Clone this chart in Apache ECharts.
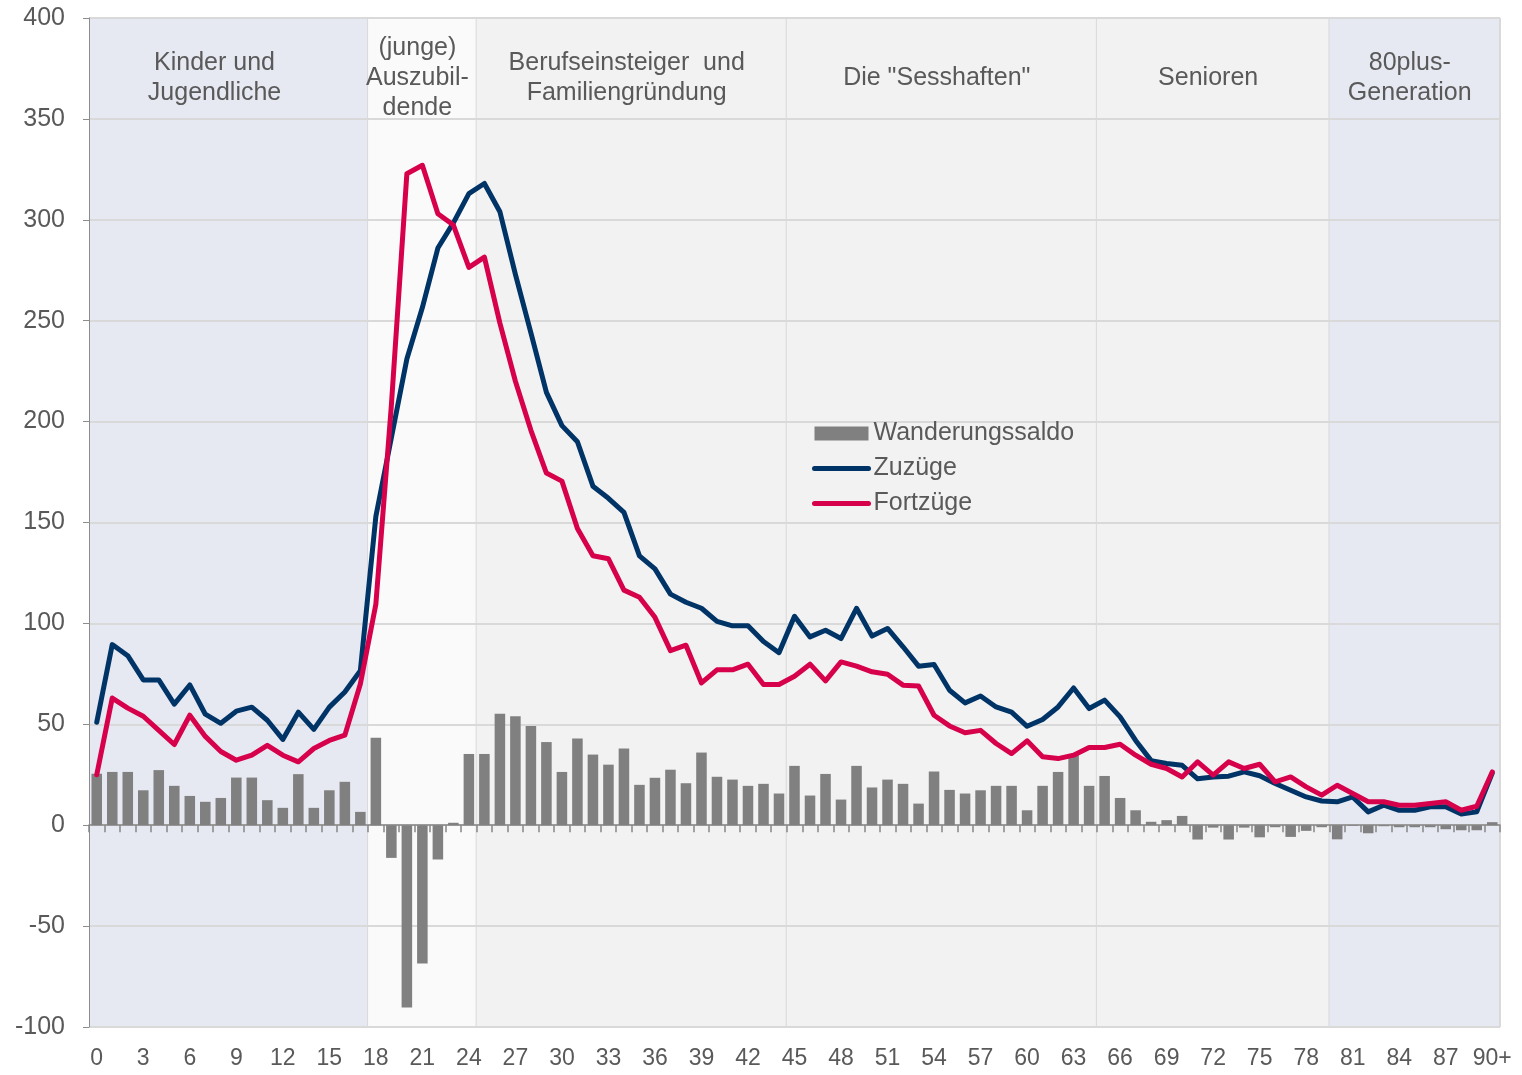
<!DOCTYPE html>
<html>
<head>
<meta charset="utf-8">
<script src="https://cdn.jsdelivr.net/npm/echarts@6/dist/echarts.min.js"></script>
<style>
html,body{margin:0;padding:0;background:#fff;}
#c{width:1522px;height:1075px;}
</style>
</head>
<body>
<div id="c"></div>
<script>
// ---- data ----
const ages = [];
for (let i = 0; i < 90; i++) ages.push(String(i));
ages.push('90+');

const zuzuege = [51,89.5,84,72,72,60,69.5,55,50.5,56.5,58.5,52,42.5,56,47.5,58.5,66,76.5,
  153,192,231,256.5,286,298.5,313,318,304,273,244,214.5,198,190,168,162,155,133.5,127,114.5,110.5,
  107.5,101,98.8,98.8,91,85.5,103.5,93.3,96.6,92.5,107.5,93.7,97.5,88.4,78.8,79.6,66.9,60.6,64,58.6,
  56,49,52.4,58.6,68,57.8,62,53.7,42,32,30.6,29.7,23,23.9,24.3,26.4,24.5,20.7,17.3,14,12,
  11.6,14,6.6,9.9,7.4,7.4,9.1,9.1,5.5,6.6,25.8];

const fortzuege = [25,63,58,54,47,40,54.5,44,36.5,32.2,34.7,39.6,34.7,31.4,38,42,44.6,70,
  109.5,208,322.8,327,303,297.4,276.4,281.5,248.8,220,195.7,174.5,170.5,147,133.5,132,116.5,113,103,86.5,89.2,
  70.5,77,77,79.8,69.7,69.7,73.8,79.8,71.5,80.9,78.8,76,74.8,69.4,69,54.5,49.2,45.8,47,40.5,
  35.5,41.8,33.9,33,34.7,38.5,38.5,40.1,34.7,30.2,28.1,23.9,31.4,24.8,31.4,28.1,30.2,21.5,23.9,19,14.9,
  19.8,15.7,11.6,11.6,9.9,9.9,10.7,11.6,7.4,9.4,26.4];

const saldo = [25.5,26.4,26.4,17.3,27.3,19.5,14.5,11.6,13.5,23.6,23.6,12.4,8.6,25.3,8.6,17.3,21.5,6.6,
  43.3,-16.2,-90.3,-68.5,-17,1.2,35.3,35.3,55.2,54,49.2,41.2,26.4,43,35,30,38,20,23.5,27.5,20.8,
  36,24,22.6,19.5,20.5,15.7,29.4,14.7,25.4,12.7,29.4,18.7,22.6,20.5,10.7,26.6,17.5,15.7,17.3,19.5,
  19.5,7.4,19.5,26.4,34.7,19.5,24.4,13.5,7.4,1.7,2.5,4.6,-7.1,-1.2,-7.1,-1.2,-6,-1,-5.8,-2.8,-1,
  -7,-0.3,-4,-0.5,-1,-1,-1,-2,-2.5,-2.5,1.5];

const bandNames = ['Kinder und\nJugendliche', '(junge)\nAuszubil-\ndende', 'Berufseinsteiger  und\nFamiliengründung',
  'Die "Sesshaften"', 'Senioren', '80plus-\nGeneration'];
const bandStart = ['0', '18', '25', '45', '65', '80'];
const bandEnd = ['17', '24', '44', '64', '79', '90+'];

const yTicks = { min: -100, max: 400, step: 50 };
const seriesNames = ['Wanderungssaldo', 'Zuzüge', 'Fortzüge'];

// ---- styles ----
const bandColors = ['#e6e8f2', '#fafafa', '#f2f2f2', '#f2f2f2', '#f2f2f2', '#e6e8f2'];
const FONT = "'Liberation Sans', Arial, sans-serif";
const TXT = '#595959';
const BLUE = '#003366';
const RED = '#d6004b';

const bandData = bandStart.map((s, i) => [ages.indexOf(s), ages.indexOf(bandEnd[i]), i]);

const chart = echarts.init(document.getElementById('c'), null, { renderer: 'canvas' });
chart.setOption({
  animation: false,
  backgroundColor: '#ffffff',
  textStyle: { fontFamily: FONT },
  grid: { left: 89, right: 22, top: 18, bottom: 48, containLabel: false },
  legend: {
    orient: 'vertical',
    left: 812, top: 419,
    padding: 0,
    itemWidth: 54, itemHeight: 14, itemGap: 6,
    textStyle: { fontSize: 25, color: TXT, fontFamily: FONT, lineHeight: 29, padding: [0, 0, 0, 0] },
    data: [
      { name: seriesNames[0], icon: 'rect' },
      { name: seriesNames[1], itemStyle: { opacity: 0 }, lineStyle: { width: 5, cap: 'round', color: BLUE } },
      { name: seriesNames[2], itemStyle: { opacity: 0 }, lineStyle: { width: 5, cap: 'round', color: RED } }
    ]
  },
  xAxis: [
    {
      type: 'category', data: ages, position: 'bottom',
      axisLine: { onZero: true, lineStyle: { color: '#868686', width: 1.5 } },
      axisTick: { show: true, interval: 0, length: 7, lineStyle: { color: '#868686', width: 1.5 } },
      axisLabel: { show: false },
      splitLine: { show: false }
    },
    {
      type: 'category', data: ages, position: 'bottom',
      axisLine: { show: false, onZero: false },
      axisTick: { show: false },
      axisLabel: { interval: 2, fontSize: 23, color: TXT, margin: 20, fontFamily: FONT },
      splitLine: { show: false }
    }
  ],
  yAxis: {
    type: 'value', min: yTicks.min, max: yTicks.max, interval: yTicks.step,
    axisLine: { show: true, onZero: false, lineStyle: { color: '#8c8c8c', width: 1 } },
    axisTick: { show: true, length: 6, lineStyle: { color: '#8c8c8c' } },
    axisLabel: { fontSize: 25, color: TXT, margin: 24, fontFamily: FONT },
    splitLine: { show: true, lineStyle: { color: '#d9d9d9', width: 2 } }
  },
  series: [
    {
      type: 'custom',
      name: 'bands',
      xAxisIndex: 0,
      z: -5,
      silent: true,
      encode: { x: [0, 1], y: 2 },
      data: bandData,
      renderItem: function (params, api) {
        const s = api.value(0), e = api.value(1), idx = api.value(2);
        const bw = api.size([1, 0])[0];
        const pTop = api.coord([s, yTicks.max]);
        const pBot = api.coord([s, yTicks.min]);
        const x0 = api.coord([s, 0])[0] - bw / 2;
        const x1 = api.coord([e, 0])[0] + bw / 2;
        const yMid = api.coord([s, 370])[1];
        return {
          type: 'group',
          children: [
            { type: 'rect', shape: { x: x0, y: pTop[1], width: x1 - x0, height: pBot[1] - pTop[1] },
              style: { fill: bandColors[idx] } },
            { type: 'line', shape: { x1: x1, y1: pTop[1], x2: x1, y2: pBot[1] },
              style: { stroke: '#d9d9d9', lineWidth: 2 } },
            { type: 'text', z2: 10,
              style: { text: bandNames[idx], x: (x0 + x1) / 2 - (idx === 0 ? 14 : 5), y: yMid,
                align: 'center', verticalAlign: 'middle', fill: TXT,
                font: '25px ' + FONT, lineHeight: 30 } }
          ]
        };
      }
    },
    {
      name: seriesNames[0], type: 'bar', xAxisIndex: 0, data: saldo,
      barWidth: '68%', itemStyle: { color: '#808080' }, z: 2
    },
    {
      name: seriesNames[1], type: 'line', xAxisIndex: 0, data: zuzuege,
      symbol: 'none', lineStyle: { color: BLUE, width: 5, cap: 'round', join: 'round' },
      itemStyle: { color: BLUE }, z: 3
    },
    {
      name: seriesNames[2], type: 'line', xAxisIndex: 0, data: fortzuege,
      symbol: 'none', lineStyle: { color: RED, width: 5, cap: 'round', join: 'round' },
      itemStyle: { color: RED }, z: 4
    }
  ]
});
</script>
</body>
</html>
